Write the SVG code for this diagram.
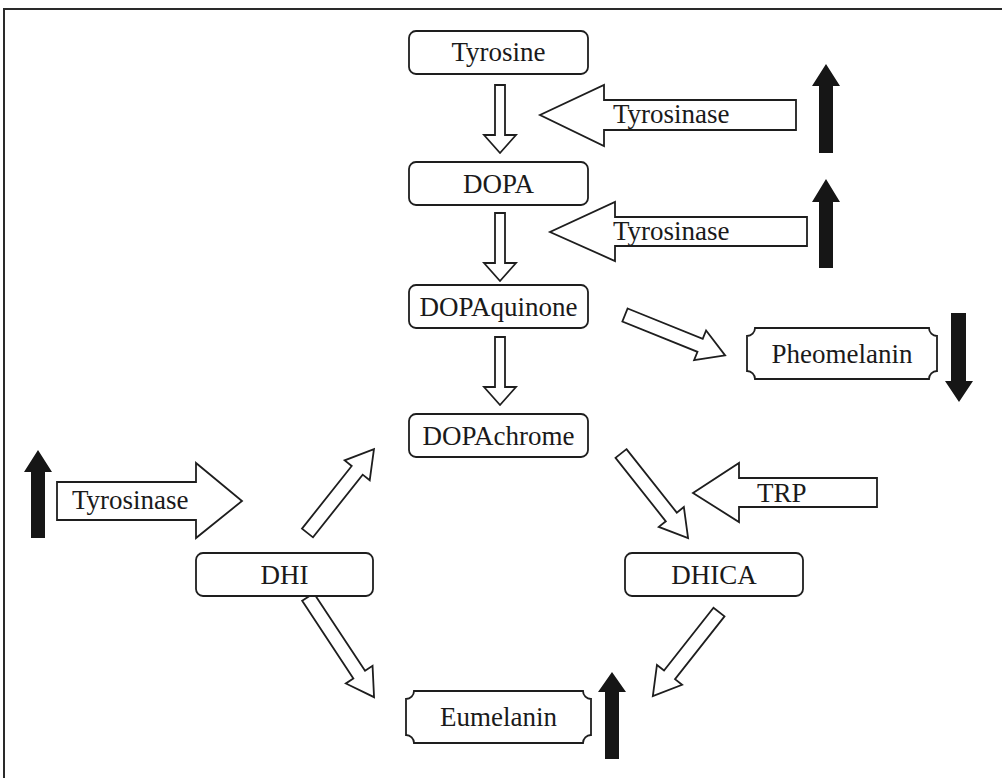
<svg xmlns="http://www.w3.org/2000/svg" width="1002" height="778" viewBox="0 0 1002 778">
<style>
.bx{fill:#fff;stroke:#1e1e1e;stroke-width:1.8}
.ha{fill:#fff;stroke:#1e1e1e;stroke-width:1.8;stroke-linejoin:miter}
.ka{fill:#161616;stroke:none}
text{font-family:"Liberation Serif","Times New Roman",serif;font-size:27px;fill:#1a1a1a}
.c{text-anchor:middle}
</style>
<rect width="1002" height="778" fill="#fff"/>
<path d="M4,778 V9 H1002" fill="none" stroke="#2a2a2a" stroke-width="2"/>

<g id="connectors">
<path class="ha" d="M0,-5 H50 V-16 L68,0 L50,16 V5 H0 Z" transform="translate(500,85) rotate(90)"/>
<path class="ha" d="M0,-5 H50 V-16 L68,0 L50,16 V5 H0 Z" transform="translate(500,213) rotate(90)"/>
<path class="ha" d="M0,-5 H50 V-16 L68,0 L50,16 V5 H0 Z" transform="translate(500,337) rotate(90)"/>
<path class="ha" d="M0,-7 H81 V-16 L108,0 L81,16 V7 H0 Z" transform="translate(625,315) rotate(22)"/>
<path class="ha" d="M0,-7 H80 V-16 L107,0 L80,16 V7 H0 Z" transform="translate(307.5,533) rotate(-51.6)"/>
<path class="ha" d="M0,-7 H81 V-16 L108,0 L81,16 V7 H0 Z" transform="translate(621,453.5) rotate(51.6)"/>
<path class="ha" d="M0,-7 H80 V-16 L107,0 L80,16 V7 H0 Z" transform="translate(719,612) rotate(128.2)"/>
<path class="ha" d="M0,-7 H93 V-16 L120,0 L93,16 V7 H0 Z" transform="translate(308,597) rotate(56.6)"/>
</g>

<g id="enzyme-tyrosinase-1">
<path class="ha" d="M796,100 H604 V85 L540,115 L604,146 V130 H796 Z"/>
<text x="613" y="123">Tyrosinase</text>
</g>
<g id="enzyme-tyrosinase-2">
<path class="ha" d="M807,217 H615 V202 L550,232 L615,261 V246 H807 Z"/>
<text x="613" y="240">Tyrosinase</text>
</g>
<g id="enzyme-tyrosinase-3">
<path class="ha" d="M57,482 H196 V463 L242,501 L196,538 V520 H57 Z"/>
<text x="72" y="509">Tyrosinase</text>
</g>
<g id="enzyme-trp">
<path class="ha" d="M877,478 H739 V463 L693,493 L739,522 V507 H877 Z"/>
<text x="757" y="502">TRP</text>
</g>

<g id="indicators">
<path class="ka" d="M819,153 V86 H812 L826,64 L840,86 H833 V153 Z"/>
<path class="ka" d="M819,268 V202 H812 L826,179 L840,202 H833 V268 Z"/>
<path class="ka" d="M951,313 V381 H945 L959,402 L973,381 H966 V313 Z"/>
<path class="ka" d="M31,538 V472 H24 L38,450 L52,472 H45 V538 Z"/>
<path class="ka" d="M605,759 V692 H598 L612,672 L626,692 H619 V759 Z"/>
</g>

<g id="tyrosine">
<rect class="bx" x="409" y="31" width="179" height="43" rx="7"/>
<text class="c" x="498.5" y="61">Tyrosine</text>
</g>
<g id="dopa">
<rect class="bx" x="409" y="162" width="179" height="43" rx="7"/>
<text class="c" x="498.5" y="193">DOPA</text>
</g>
<g id="dopaquinone">
<rect class="bx" x="409" y="285" width="179" height="43" rx="7"/>
<text class="c" x="498.5" y="316">DOPAquinone</text>
</g>
<g id="dopachrome">
<rect class="bx" x="409" y="414" width="179" height="43" rx="7"/>
<text class="c" x="498.5" y="445">DOPAchrome</text>
</g>
<g id="dhi">
<rect class="bx" x="196" y="553" width="177" height="43" rx="7"/>
<text class="c" x="284.5" y="584">DHI</text>
</g>
<g id="dhica">
<rect class="bx" x="625" y="553" width="178" height="43" rx="7"/>
<text class="c" x="714" y="584">DHICA</text>
</g>
<g id="pheomelanin">
<path class="bx" d="M755,328 H929 A8,8 0 0 0 937,336 V371 A8,8 0 0 0 929,379 H755 A8,8 0 0 0 747,371 V336 A8,8 0 0 0 755,328 Z"/>
<text class="c" x="842" y="363">Pheomelanin</text>
</g>
<g id="eumelanin">
<path class="bx" d="M414,691 H583 A8,8 0 0 0 591,699 V735 A8,8 0 0 0 583,743 H414 A8,8 0 0 0 406,735 V699 A8,8 0 0 0 414,691 Z"/>
<text class="c" x="498.5" y="726">Eumelanin</text>
</g>
</svg>
